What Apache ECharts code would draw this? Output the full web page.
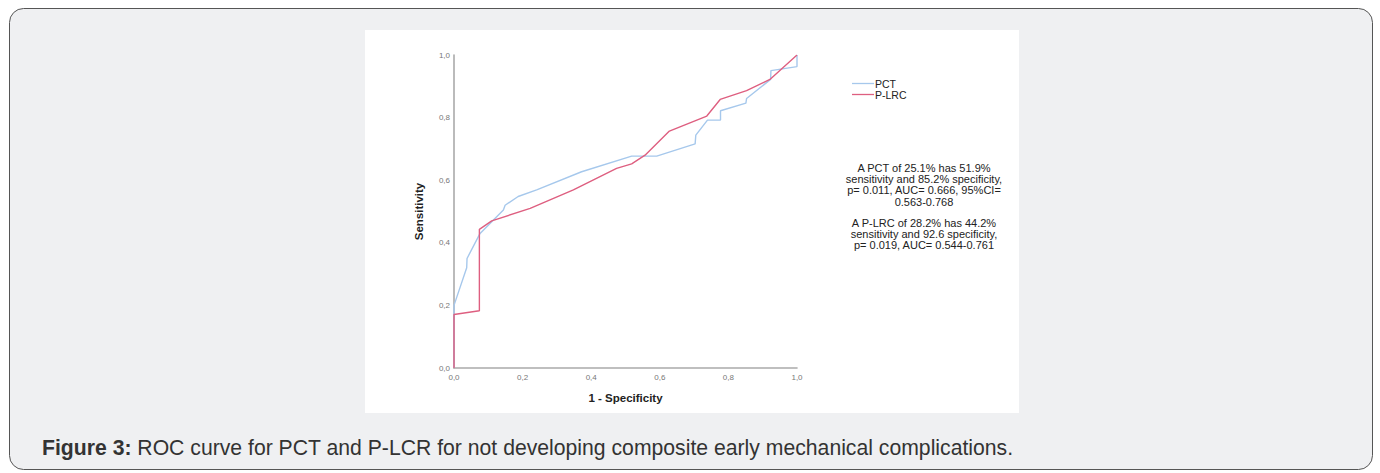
<!DOCTYPE html>
<html>
<head>
<meta charset="utf-8">
<script src="https://cdn.jsdelivr.net/npm/echarts@6/dist/echarts.min.js"></script>
<style>
html,body{margin:0;padding:0;background:#ffffff;}
#c{width:1380px;height:473px;}
</style>
</head>
<body>
<div id="c"></div>
<script>
// ---- data ----
var seriesNames = ['PCT', 'P-LRC'];
var pctPoints = [
  [0,0],[0,0.20],[0.037,0.32],[0.038,0.35],[0.076,0.43],[0.144,0.505],[0.149,0.52],
  [0.187,0.548],[0.241,0.569],[0.372,0.627],[0.518,0.677],[0.591,0.677],[0.703,0.716],
  [0.705,0.744],[0.739,0.792],[0.777,0.792],[0.777,0.822],[0.851,0.846],[0.853,0.861],
  [0.923,0.922],[0.924,0.950],[1.0,0.963],[1.0,1.0]
];
var plrcPoints = [
  [0,0],[0,0.171],[0.074,0.183],[0.074,0.443],[0.11,0.47],[0.222,0.51],[0.348,0.569],
  [0.474,0.638],[0.518,0.652],[0.557,0.680],[0.628,0.757],[0.737,0.805],[0.776,0.858],
  [0.853,0.886],[0.921,0.922],[1,1]
];
var tickLabels = ['0,0','0,2','0,4','0,6','0,8','1,0'];
var annotationLines1 = ['A PCT of 25.1% has 51.9%','sensitivity and 85.2% specificity,','p= 0.011, AUC= 0.666, 95%CI=','0.563-0.768'];
var annotationLines2 = ['A P-LRC of 28.2% has 44.2%','sensitivity and 92.6 specificity,','p= 0.019, AUC= 0.544-0.761'];
var captionBold = 'Figure 3:';
var captionText = ' ROC curve for PCT and P-LCR for not developing composite early mechanical complications.';

// ---- chart ----
var FONT = '"Liberation Sans", Arial, Helvetica, sans-serif';
var chart = echarts.init(document.getElementById('c'), null, {renderer: 'svg'});
function tickFmt(v){ var i = Math.round(v/0.2); return tickLabels[i] !== undefined ? tickLabels[i] : ''; }

var graphics = [
  {type:'rect', z:-10, silent:true, shape:{x:9.5,y:8.5,width:1363,height:461,r:14},
   style:{fill:'#eff0f2', stroke:'#555555', lineWidth:1}},
  {type:'rect', z:-9, silent:true, shape:{x:365,y:30,width:654,height:383},
   style:{fill:'#ffffff'}},
  {type:'text', left:42, top:437, silent:true,
   style:{text:'{b|'+captionBold+'}{n|'+captionText+'}', rich:{
     b:{fontFamily:FONT, fontSize:21.2, fontWeight:'bold', fill:'#333333'},
     n:{fontFamily:FONT, fontSize:21.2, fill:'#333333'}}}}
];
function addBlock(lines, y0){
  lines.forEach(function(t, i){
    graphics.push({type:'text', silent:true, x:924, y:y0 + i*11.2,
      style:{text:t, fontFamily:FONT, fontSize:11, fill:'#222222', align:'center', verticalAlign:'middle'}});
  });
}
addBlock(annotationLines1, 168);
addBlock(annotationLines2, 223);

chart.setOption({
  animation:false,
  backgroundColor:'transparent',
  grid:{left:454, right:583, top:55, bottom:105, containLabel:false},
  legend:{
    orient:'vertical', left:852, top:78, padding:0, itemWidth:22, itemHeight:1.3, itemGap:0,
    icon:'rect', data:seriesNames,
    textStyle:{fontFamily:FONT, fontSize:10.5, color:'#222222', padding:[0,0,0,-4]}
  },
  xAxis:{
    type:'value', min:0, max:1, interval:0.2,
    name:'1 - Specificity', nameLocation:'middle', nameGap:24,
    nameTextStyle:{fontFamily:FONT, fontSize:11.5, fontWeight:'bold', color:'#222222'},
    axisLine:{show:true, onZero:false, lineStyle:{color:'#aaaaaa', width:1.6}},
    axisTick:{show:false}, splitLine:{show:false},
    axisLabel:{formatter:tickFmt, fontFamily:FONT, fontSize:8, color:'#777777', margin:5}
  },
  yAxis:{
    type:'value', min:0, max:1, interval:0.2,
    name:'Sensitivity', nameLocation:'middle', nameGap:29, nameRotate:90,
    nameTextStyle:{fontFamily:FONT, fontSize:11.5, fontWeight:'bold', color:'#222222'},
    axisLine:{show:true, onZero:false, lineStyle:{color:'#aaaaaa', width:1.6}},
    axisTick:{show:false}, splitLine:{show:false},
    axisLabel:{formatter:tickFmt, fontFamily:FONT, fontSize:8, color:'#777777', margin:4}
  },
  series:[
    {name:seriesNames[0], type:'line', data:pctPoints, showSymbol:false, symbol:'none',
     lineStyle:{color:'#a6c8ec', width:1.4}, itemStyle:{color:'#a6c8ec'}, z:2},
    {name:seriesNames[1], type:'line', data:plrcPoints, showSymbol:false, symbol:'none',
     lineStyle:{color:'#de5f80', width:1.4}, itemStyle:{color:'#de5f80'}, z:3}
  ],
  graphic:graphics
});
</script>
</body>
</html>
